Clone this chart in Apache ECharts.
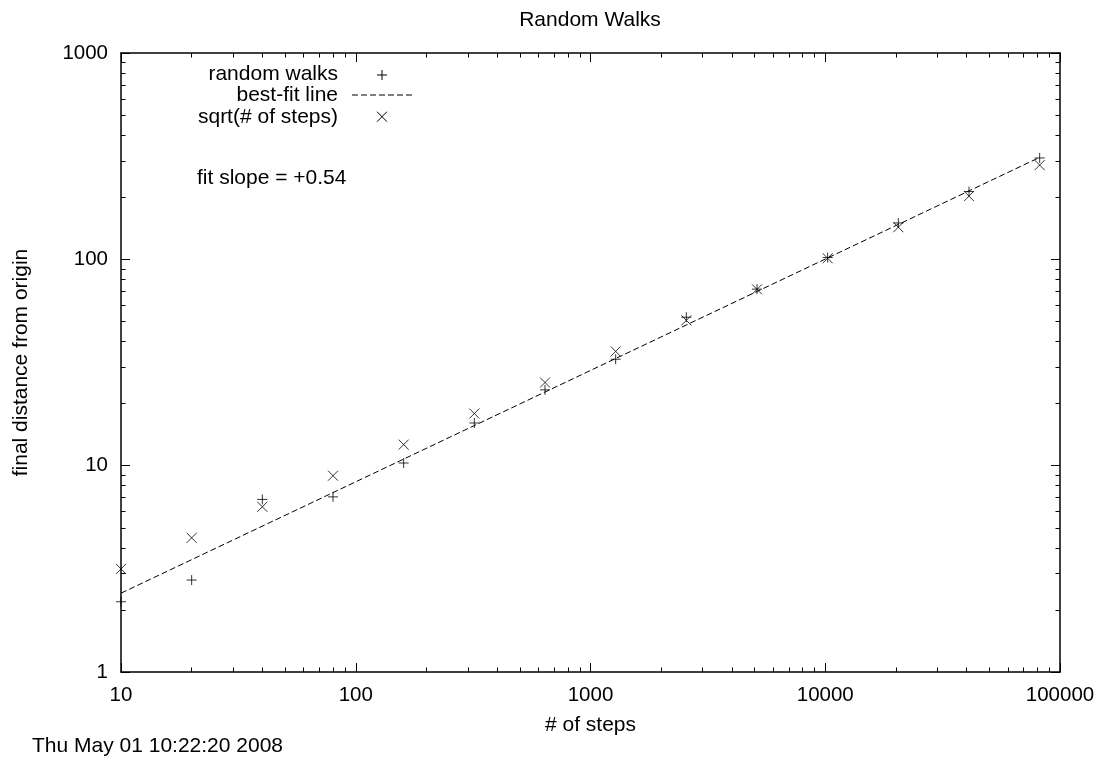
<!DOCTYPE html>
<html><head><meta charset="utf-8">
<script src="https://cdn.jsdelivr.net/npm/echarts@6/dist/echarts.min.js"></script>
<style>html,body{margin:0;padding:0;background:#fff}#c{width:1099px;height:757px}</style>
</head><body><div id="c"></div>
<script>
// ---- data ----
const steps = [10, 20, 40, 80, 160, 320, 640, 1280, 2560, 5120, 10240, 20480, 40960, 81920];
const walkDistances = [2.19, 2.79, 6.86, 7.06, 10.3, 16.1, 23.3, 32.8, 52.4, 71.7, 102, 150, 213, 310];
const sqrtSteps = [3.16, 4.47, 6.32, 8.94, 12.65, 17.89, 25.30, 35.78, 50.60, 71.55, 101.19, 143.11, 202.39, 286.22];
const fitLineX = [10, 81920];
const fitLineY = [2.41, 312];
const xMajorTicks = [10, 100, 1000, 10000, 100000];
const xMinorTicks = [20, 30, 40, 50, 60, 70, 80, 90,
  200, 300, 400, 500, 600, 700, 800, 900,
  2000, 3000, 4000, 5000, 6000, 7000, 8000, 9000,
  20000, 30000, 40000, 50000, 60000, 70000, 80000, 90000];
const yMajorTicks = [1, 10, 100, 1000];
const yMinorTicks = [2, 3, 4, 5, 6, 7, 8, 9,
  20, 30, 40, 50, 60, 70, 80, 90,
  200, 300, 400, 500, 600, 700, 800, 900];
const legendNames = ['random walks', 'best-fit line', 'sqrt(# of steps)'];
const fitNote = 'fit slope = +0.54';
const timestamp = 'Thu May 01 10:22:20 2008';

const FONT = 'Liberation Sans, Arial, Helvetica, sans-serif';
const FS = 21;
const PLUS = 'path://M5,0L5,10M0,5L10,5';
const CROSS = 'path://M0,0L10,10M10,0L0,10';

function mkAxis(kind, position, ticks, len, major, labels) {
  const isX = kind === 'x';
  return {
    type: 'log', logBase: 10, position: position,
    min: isX ? 10 : 1, max: isX ? 100000 : 1000,
    axisLine: { show: major, onZero: false, lineStyle: { color: '#000', width: 1.5 } },
    axisTick: { show: true, inside: true, length: len, customValues: ticks, lineStyle: { color: '#000', width: 1 } },
    axisLabel: labels ? {
      show: true, customValues: ticks, margin: 13, color: '#000',
      fontFamily: FONT, fontSize: 20.5,
      formatter: v => String(Math.round(v))
    } : { show: false },
    splitLine: { show: false },
    minorTick: { show: false }
  };
}

const walkData = steps.map((s, i) => [s, walkDistances[i]]);
const sqrtData = steps.map((s, i) => [s, sqrtSteps[i]]);
const fitData = fitLineX.map((s, i) => [s, fitLineY[i]]);

const xAxes = [
  Object.assign(mkAxis('x', 'bottom', xMajorTicks, 9, true, true), {
    name: '# of steps', nameLocation: 'middle', nameGap: 43,
    nameTextStyle: { color: '#000', fontFamily: FONT, fontSize: FS }
  }),
  mkAxis('x', 'bottom', xMinorTicks, 4.5, false, false),
  mkAxis('x', 'top', xMajorTicks, 9, true, false),
  mkAxis('x', 'top', xMinorTicks, 4.5, false, false)
];
const yAxes = [
  Object.assign(mkAxis('y', 'left', yMajorTicks, 9, true, true), {
    name: 'final distance from origin', nameLocation: 'middle', nameGap: 89,
    nameTextStyle: { color: '#000', fontFamily: FONT, fontSize: FS }
  }),
  mkAxis('y', 'left', yMinorTicks, 4.5, false, false),
  mkAxis('y', 'right', yMajorTicks, 9, true, false),
  mkAxis('y', 'right', yMinorTicks, 4.5, false, false)
];

const legX = 338;
const iconX = 382;
const rowY = [74, 95.5, 117];

const chart = echarts.init(document.getElementById('c'), null, { renderer: 'canvas' });
chart.setOption({
  backgroundColor: '#fff',
  animation: false,
  title: {
    text: 'Random Walks', left: 590, top: 10, padding: 0, textAlign: 'center',
    textStyle: { color: '#000', fontFamily: FONT, fontSize: FS, fontWeight: 'normal' }
  },
  grid: { left: 121, right: 39, top: 53, bottom: 85, containLabel: false },
  xAxis: xAxes,
  yAxis: yAxes,
  series: [
    {
      name: legendNames[0], type: 'scatter', data: walkData, symbol: PLUS, symbolSize: 10,
      clip: false, itemStyle: { color: 'rgba(0,0,0,0)', borderColor: '#000', borderWidth: 1 },
      emphasis: { disabled: true }
    },
    {
      name: legendNames[1], type: 'line', data: fitData, symbol: 'none',
      lineStyle: { color: '#000', width: 1, type: [6, 3] }, emphasis: { disabled: true }
    },
    {
      name: legendNames[2], type: 'scatter', data: sqrtData, symbol: CROSS, symbolSize: 10,
      clip: false, itemStyle: { color: 'rgba(0,0,0,0)', borderColor: '#000', borderWidth: 1 },
      emphasis: { disabled: true }
    }
  ],
  graphic: [
    { type: 'text', style: { x: legX, y: rowY[0], text: legendNames[0], align: 'right', verticalAlign: 'middle', fill: '#000', font: FS + 'px ' + FONT } },
    { type: 'text', style: { x: legX, y: rowY[1], text: legendNames[1], align: 'right', verticalAlign: 'middle', fill: '#000', font: FS + 'px ' + FONT } },
    { type: 'text', style: { x: legX, y: rowY[2], text: legendNames[2], align: 'right', verticalAlign: 'middle', fill: '#000', font: FS + 'px ' + FONT } },
    { type: 'polyline', shape: { points: [[iconX, 70], [iconX, 80]] }, style: { stroke: '#000', lineWidth: 1 } },
    { type: 'polyline', shape: { points: [[iconX - 5, 75], [iconX + 5, 75]] }, style: { stroke: '#000', lineWidth: 1 } },
    { type: 'line', shape: { x1: 352, y1: 95, x2: 412, y2: 95 }, style: { stroke: '#000', lineWidth: 1, lineDash: [6, 3] } },
    { type: 'line', shape: { x1: iconX - 5, y1: 111.7, x2: iconX + 5, y2: 121.7 }, style: { stroke: '#000', lineWidth: 1 } },
    { type: 'line', shape: { x1: iconX + 5, y1: 111.7, x2: iconX - 5, y2: 121.7 }, style: { stroke: '#000', lineWidth: 1 } },
    { type: 'text', style: { x: 197, y: 178, text: fitNote, align: 'left', verticalAlign: 'middle', fill: '#000', font: FS + 'px ' + FONT } },
    { type: 'text', style: { x: 32, y: 746.5, text: timestamp, align: 'left', verticalAlign: 'middle', fill: '#000', font: FS + 'px ' + FONT } }
  ]
});
</script></body></html>
